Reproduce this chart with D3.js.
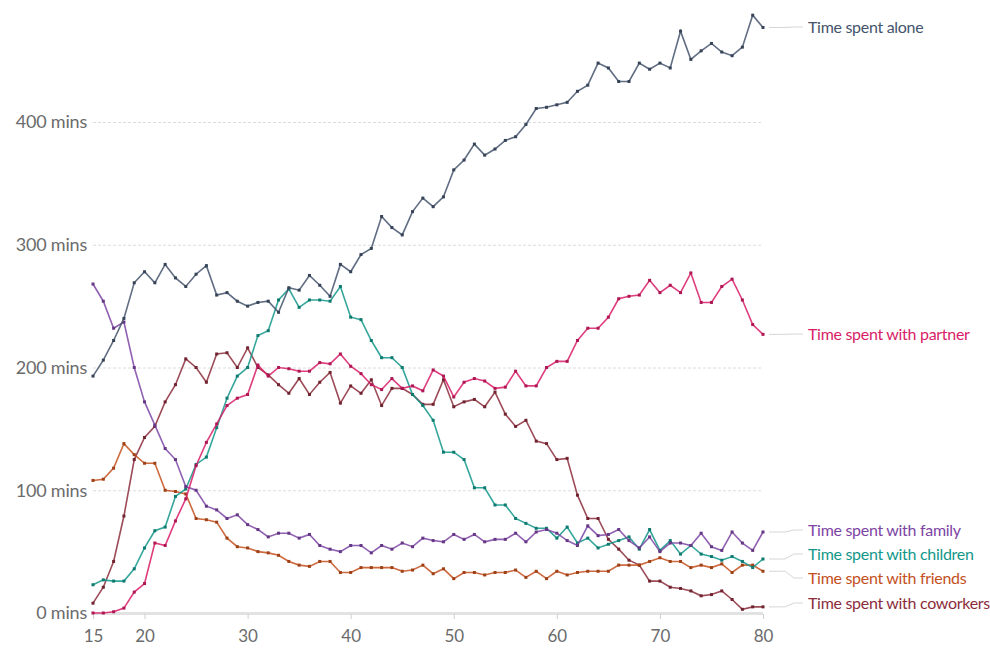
<!DOCTYPE html>
<html>
<head>
<meta charset="utf-8">
<script src="https://cdn.jsdelivr.net/npm/d3@7"></script>
<style>
    body{margin:0;background:#fff;}
    #chartWrapper text{font-family:Lato,'Open Sans',sans-serif;}
</style>
</head>
<body>
<div id="chartWrapper"></div>
<script>
//data
const ages = [15,16,17,18,19,20,21,22,23,24,25,26,27,28,29,30,31,32,33,34,35,36,37,38,39,40,
    41,42,43,44,45,46,47,48,49,50,51,52,53,54,55,56,57,58,59,60,61,62,63,64,65,66,67,68,69,70,
    71,72,73,74,75,76,77,78,79,80];

const alone = [193,206,222,240,269,278,269,284,273,266,276,283,259,261,254,250,253,254,245,265,
    263,275,267,258,284,278,292,297,323,314,308,327,338,331,339,361,369,382,373,378,
    385,388,398,411,412,414,416,425,430,448,444,433,433,448,443,448,444,474,451,458,
    464,457,454,461,487,477];

const partner = [0,0,1,4,17,24,57,55,75,93,120,139,154,169,175,178,202,193,200,199,
    197,197,204,203,211,201,195,186,182,191,183,185,181,198,193,176,188,191,189,183,
    184,197,185,185,200,205,205,222,232,232,241,256,258,259,271,261,267,261,277,253,
    253,266,272,255,235,227];

const family = [268,254,232,237,200,172,153,134,125,103,100,87,84,77,80,72,68,62,65,65,
    61,64,55,52,50,55,55,49,55,52,57,54,61,59,58,64,60,64,58,60,
    60,65,58,66,68,65,59,55,71,63,64,68,59,53,62,50,57,57,55,65,
    54,51,66,57,51,66];

const children = [23,27,26,26,36,53,67,70,95,101,121,127,151,175,193,200,226,230,255,264,
    249,255,255,254,266,241,239,222,208,208,200,178,169,157,131,131,125,102,102,88,
    88,77,73,69,69,61,70,57,61,53,56,59,62,52,68,51,59,48,55,48,
    46,43,46,42,37,44];

const friends = [108,109,118,138,129,122,122,100,99,97,77,76,74,61,54,53,50,49,47,42,
    39,38,42,42,33,33,37,37,37,37,34,35,39,32,36,28,33,33,31,33,
    33,35,29,34,28,34,31,33,34,34,34,39,39,39,42,45,42,42,37,39,
    37,40,33,39,39,34];

const coworkers = [8,21,42,79,125,143,152,172,186,207,200,188,211,212,200,216,200,194,186,179,
    191,178,188,196,171,185,179,190,169,183,183,178,170,170,190,168,172,174,168,180,
    162,152,157,140,138,125,126,96,77,77,60,52,43,39,26,26,21,20,18,14,
    15,18,11,3,5,5];

const seriesNames = ['Time spent alone','Time spent with partner','Time spent with family',
    'Time spent with children','Time spent with friends','Time spent with coworkers'];
const seriesColors = ['#44546c','#d81c67','#7d45a4','#12978a','#c4501d','#8b2d3b'];
const labelY = [27,334,530,554,578,603];   //label text centres

const yTicks = [0,100,200,300,400];
const xTicks = [15,20,30,40,50,60,70,80];

const CONSTANTS = {
    WIDTH:990,
    HEIGHT:648,
    LEFT:93,      //x of age 15
    RIGHT:763,    //x of age 80
    ZERO_Y:613,   //y of 0 mins
    TOP_Y:122     //y of 400 mins
};

function main(){
    let svg = d3.select('#chartWrapper')
        .append('svg')
        .attr('width',CONSTANTS.WIDTH)
        .attr('height',CONSTANTS.HEIGHT);

    let scales = buildScales();
    buildAxis(svg,scales);

    let allSeries = [alone,partner,family,children,friends,coworkers];
    //draw back to front so alone/partner are on top like the reference
    let order = [5,4,3,2,1,0];
    order.forEach(i=>buildLine(svg,scales,allSeries[i],seriesColors[i]));
    order.forEach(i=>buildLabel(svg,scales,allSeries[i],i));
}

function buildScales(){
    let x = d3.scaleLinear().domain([15,80]).range([CONSTANTS.LEFT,CONSTANTS.RIGHT]);
    let y = d3.scaleLinear().domain([0,400]).range([CONSTANTS.ZERO_Y,CONSTANTS.TOP_Y]);
    return {x:x,y:y};
}

function buildAxis(svg,scales){
    //gridlines + y labels
    let yAxis = d3.axisLeft(scales.y)
        .tickValues(yTicks)
        .tickSize(-(CONSTANTS.RIGHT-CONSTANTS.LEFT))
        .tickPadding(6)
        .tickFormat(d=>d+' mins');

    let gy = svg.append('g')
        .attr('id','y-axis')
        .attr('transform','translate('+CONSTANTS.LEFT+',0)')
        .call(yAxis);
    gy.select('.domain').remove();
    gy.selectAll('.tick line')
        .attr('stroke','#dcdcdc')
        .attr('stroke-dasharray','3,2')
        .attr('stroke-width',1);
    gy.selectAll('.tick')
        .filter(d=>d===0)
        .select('line')
        .attr('stroke','#e2e2e2')
        .attr('stroke-dasharray',null)
        .attr('stroke-width',3);
    gy.selectAll('.tick text')
        .attr('fill','#6b6b6b')
        .style('font-size','18px')
        .style('letter-spacing','-0.2px');

    //x axis
    let xAxis = d3.axisBottom(scales.x)
        .tickValues(xTicks)
        .tickSize(5)
        .tickPadding(11)
        .tickFormat(d=>d);

    let gx = svg.append('g')
        .attr('id','x-axis')
        .attr('transform','translate(0,'+(CONSTANTS.ZERO_Y+1)+')')
        .call(xAxis);
    gx.select('.domain').remove();
    gx.selectAll('.tick line').attr('stroke','#cfcfcf');
    gx.selectAll('.tick text')
        .attr('fill','#6b6b6b')
        .style('font-size','17px');
}

function buildLine(svg,scales,values,color){
    let points = ages.map((a,i)=>[a,values[i]]);
    let line = d3.line()
        .x(d=>scales.x(d[0]))
        .y(d=>scales.y(d[1]));

    svg.append('path')
        .datum(points)
        .attr('d',line)
        .attr('fill','none')
        .attr('stroke',color)
        .attr('stroke-opacity',0.85)
        .attr('stroke-width',1.6);

    svg.append('g')
        .selectAll('rect')
        .data(points)
        .enter()
        .append('rect')
        .attr('x',d=>scales.x(d[0])-1.5)
        .attr('y',d=>scales.y(d[1])-1.5)
        .attr('width',3)
        .attr('height',3)
        .attr('fill',d3.color(color).darker(0.6));
}

//label on the right with a grey connector
function buildLabel(svg,scales,values,i){
    let endY = scales.y(values[values.length-1]);
    let x0 = CONSTANTS.RIGHT+6;
    let tY = labelY[i];

    svg.append('path')
        .attr('d',d3.line()([[x0,endY],[x0+16,endY],[x0+25,tY],[x0+34,tY]]))
        .attr('fill','none')
        .attr('stroke','#d6d6d6')
        .attr('stroke-width',1);

    svg.append('text')
        .attr('x',x0+39)
        .attr('y',tY)
        .attr('dy','0.35em')
        .attr('fill',seriesColors[i])
        .style('font-size','16px')
        .style('letter-spacing','-0.3px')
        .text(seriesNames[i]);
}

main();
</script>
</body>
</html>
